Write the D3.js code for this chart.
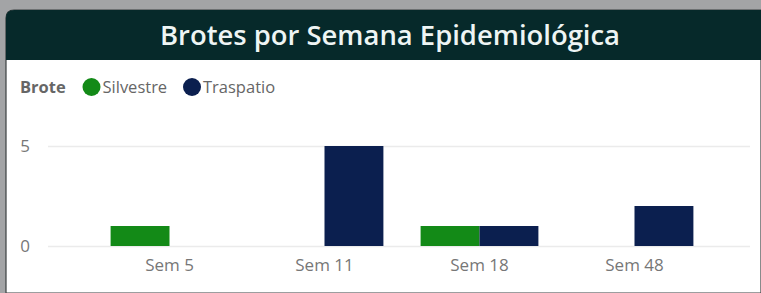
<!DOCTYPE html>
<html>
<head>
<meta charset="utf-8">
<script src="https://cdn.jsdelivr.net/npm/d3@7.9.0/dist/d3.min.js"></script>
<style>
  html, body { margin: 0; padding: 0; background: #a3a4a6; }
  svg { display: block; font-family: "Open Sans", "Noto Sans", sans-serif; }
</style>
</head>
<body>
<svg id="chart" width="761" height="293"></svg>
<script>
// Data
const weeks = ["Sem 5", "Sem 11", "Sem 18", "Sem 48"];
const seriesNames = ["Silvestre", "Traspatio"];
const silvestre = [1, 0, 1, 0];
const traspatio = [0, 5, 1, 2];
const yTicks = [0, 5];

const colors = { Silvestre: "#138a17", Traspatio: "#0b1f4f" };

const svg = d3.select("#chart");
const W = +svg.attr("width");
const H = +svg.attr("height");

// Card frame: dark header with rounded top-left corner, white body
svg.append("path")
  .attr("d", `M6,${H} L6,18 Q6,10 14,10 L${W},10 L${W},${H} Z`)
  .attr("fill", "#ffffff")
  .attr("stroke", "#3b3f40")
  .attr("stroke-width", 1.2);

svg.append("path")
  .attr("d", `M6,60 L6,18 Q6,10 14,10 L${W},10 L${W},60 Z`)
  .attr("fill", "#06292a");

svg.append("text")
  .attr("x", 390)
  .attr("y", 45)
  .attr("text-anchor", "middle")
  .attr("fill", "#eef5f4")
  .attr("font-size", 27)
  .attr("font-weight", 600)
  .attr("textLength", 460)
  .attr("lengthAdjust", "spacingAndGlyphs")
  .text("Brotes por Semana Epidemiológica");

// Legend
const legend = svg.append("g");
legend.append("text")
  .attr("x", 20).attr("y", 93)
  .attr("fill", "#666")
  .attr("font-size", 16.5)
  .attr("font-weight", 700)
  .text("Brote");

const legendX = [91.5, 192];
seriesNames.forEach((name, i) => {
  const g = legend.append("g").attr("transform", `translate(${legendX[i]},87)`);
  g.append("circle").attr("r", 9).attr("fill", colors[name]);
  g.append("text")
    .attr("x", 11).attr("y", 6)
    .attr("fill", "#666")
    .attr("font-size", 16.5)
    .text(name);
});

// Scales
const x = d3.scaleBand()
  .domain(weeks)
  .range([92, 712])
  .paddingInner(0.24)
  .paddingOuter(0.12);

const x1 = d3.scaleBand()
  .domain(seriesNames)
  .range([0, x.bandwidth()]);

const y = d3.scaleLinear()
  .domain([0, 5])
  .range([246, 146]);

// Gridlines + y labels
const yAxis = d3.axisLeft(y)
  .tickValues(yTicks)
  .tickSize(-(750 - 48))
  .tickFormat(d3.format("d"));

svg.append("g")
  .attr("transform", "translate(48,0)")
  .call(yAxis)
  .call(g => g.select(".domain").remove())
  .call(g => g.selectAll(".tick line").attr("stroke", "#ebebeb").attr("stroke-width", 1.5))
  .call(g => g.selectAll(".tick text")
    .attr("x", -18)
    .attr("fill", "#777")
    .attr("font-size", 17)
    .attr("font-family", "'Open Sans', sans-serif"));

// Bars
const rows = weeks.map((w, i) => ({ week: w, Silvestre: silvestre[i], Traspatio: traspatio[i] }));

svg.append("g")
  .selectAll("g")
  .data(rows)
  .join("g")
  .attr("transform", d => `translate(${x(d.week)},0)`)
  .selectAll("rect")
  .data(d => seriesNames.map(k => ({ key: k, value: d[k] })).filter(d => d.value > 0))
  .join("rect")
  .attr("x", d => x1(d.key))
  .attr("y", d => y(d.value))
  .attr("width", x1.bandwidth())
  .attr("height", d => y(0) - y(d.value))
  .attr("fill", d => colors[d.key]);

// X axis labels
const xAxis = d3.axisBottom(x).tickSize(0).tickPadding(0);
svg.append("g")
  .attr("transform", "translate(0,259)")
  .call(xAxis)
  .call(g => g.select(".domain").remove())
  .call(g => g.selectAll(".tick text")
    .attr("fill", "#777")
    .attr("font-size", 17)
    .attr("font-family", "'Open Sans', sans-serif"));
</script>
</body>
</html>
